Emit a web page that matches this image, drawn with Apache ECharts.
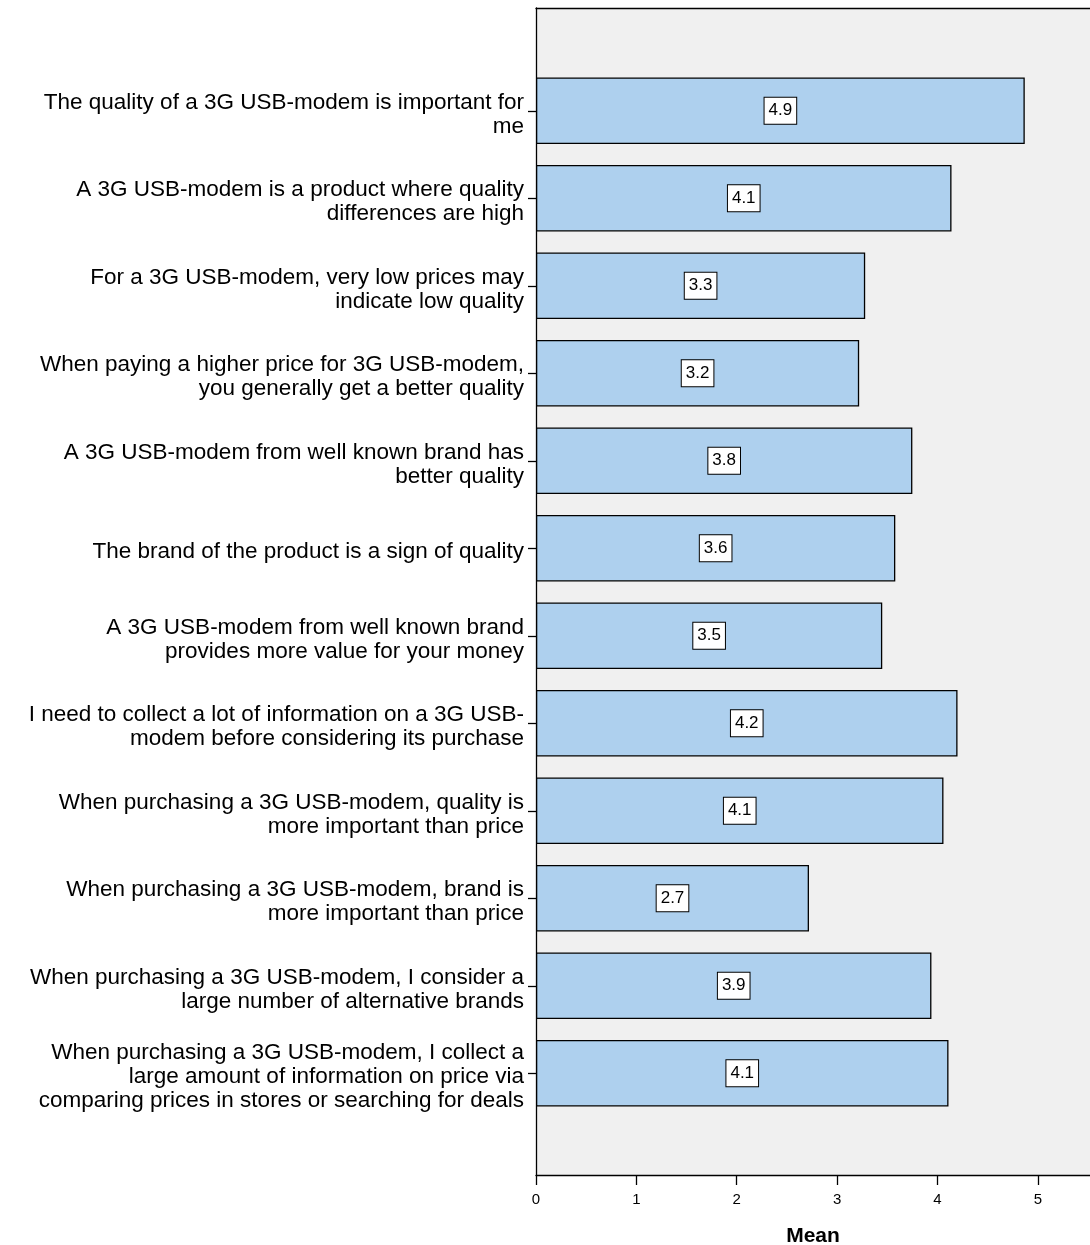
<!DOCTYPE html>
<html>
<head>
<meta charset="utf-8">
<script src="https://cdn.jsdelivr.net/npm/echarts@6/dist/echarts.min.js"></script>
<style>
  html, body { margin: 0; padding: 0; background: #ffffff; }
  #chart { width: 1090px; height: 1245px; }
</style>
</head>
<body>
<div id="chart"></div>
<script>
// Survey statements (top to bottom)
const categories = [
  'The quality of a 3G USB-modem is important for\nme',
  'A 3G USB-modem is a product where quality\ndifferences are high',
  'For a 3G USB-modem, very low prices may\nindicate low quality',
  'When paying a higher price for 3G USB-modem,\nyou generally get a better quality',
  'A 3G USB-modem from well known brand has\nbetter quality',
  'The brand of the product is a sign of quality',
  'A 3G USB-modem from well known brand\nprovides more value for your money',
  'I need to collect a lot of information on a 3G USB-\nmodem before considering its purchase',
  'When purchasing a 3G USB-modem, quality is\nmore important than price',
  'When purchasing a 3G USB-modem, brand is\nmore important than price',
  'When purchasing a 3G USB-modem, I consider a\nlarge number of alternative brands',
  'When purchasing a 3G USB-modem, I collect a\nlarge amount of information on price via\ncomparing prices in stores or searching for deals'
];

// Mean agreement score per statement
const means = [4.87, 4.14, 3.28, 3.22, 3.75, 3.58, 3.45, 4.20, 4.06, 2.72, 3.94, 4.11];

// Mean axis
const xMin = 0;
const xMax = 5.52;
const xTicks = [0, 1, 2, 3, 4, 5];

const chart = echarts.init(document.getElementById('chart'), null, { renderer: 'canvas' });

const fontFamily = '"Liberation Sans", Arial, Helvetica, sans-serif';

chart.setOption({
  animation: false,
  textStyle: { fontFamily: fontFamily },
  grid: [
    // frame: shaded plot area with axis lines
    { left: 536, right: 0, top: 8, bottom: 70, show: true, backgroundColor: '#f0f0f0', borderWidth: 0, outerBoundsMode: 'none' },
    // bars
    { left: 536, right: 0, top: 67, bottom: 128, outerBoundsMode: 'none' }
  ],
  xAxis: [
    {
      type: 'value', gridIndex: 0, min: xMin, max: xMax,
      name: 'Mean', nameLocation: 'middle', nameGap: 51,
      nameTextStyle: { fontSize: 21, fontWeight: 'bold', color: '#000', fontFamily: fontFamily },
      axisLine: { show: true, lineStyle: { color: '#000', width: 1.3 } },
      axisTick: { show: true, length: 10, lineStyle: { color: '#000', width: 1.3 }, customValues: xTicks },
      axisLabel: { fontSize: 15, color: '#000', margin: 17, customValues: xTicks },
      splitLine: { show: false }
    },
    {
      type: 'value', gridIndex: 0, min: xMin, max: xMax, position: 'top',
      axisLine: { show: true, lineStyle: { color: '#000', width: 1.3 } },
      axisTick: { show: false }, axisLabel: { show: false }, splitLine: { show: false }
    },
    {
      type: 'value', gridIndex: 1, min: xMin, max: xMax, show: false,
      splitLine: { show: false }
    }
  ],
  yAxis: [
    {
      type: 'value', gridIndex: 0, min: 0, max: 1,
      axisLine: { show: true, lineStyle: { color: '#000', width: 1.3 } },
      axisTick: { show: false }, axisLabel: { show: false }, splitLine: { show: false }
    },
    {
      type: 'category', gridIndex: 1, data: categories, inverse: true,
      axisLine: { show: false },
      axisTick: { show: true, alignWithLabel: true, length: 8, lineStyle: { color: '#000', width: 1.3 } },
      axisLabel: {
        fontSize: 22.5, color: '#000', margin: 12, lineHeight: 24, align: 'right',
        // small spacer line on top nudges each statement block slightly below its tick
        formatter: v => '{gap| }\n' + v,
        rich: { gap: { fontSize: 6, lineHeight: 8 } }
      }
    }
  ],
  series: [
    {
      type: 'bar',
      xAxisIndex: 2,
      yAxisIndex: 1,
      data: means,
      barCategoryGap: '24%',
      itemStyle: { color: '#aed0ee', borderColor: '#000', borderWidth: 1.3 },
      label: {
        show: true,
        position: 'inside',
        formatter: p => p.value.toFixed(1),
        fontSize: 17,
        color: '#000',
        backgroundColor: '#fff',
        borderColor: '#000',
        borderWidth: 1,
        padding: [5, 4, 4, 4]
      }
    }
  ]
});
</script>
</body>
</html>
